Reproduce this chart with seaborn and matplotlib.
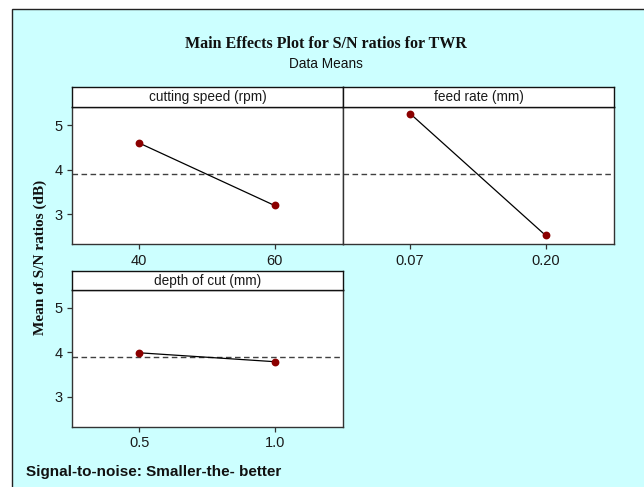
import numpy as np
import matplotlib
matplotlib.use("Agg")
import matplotlib.pyplot as plt
import seaborn as sns
from matplotlib.patches import Rectangle

# Main effects data (means of S/N ratios, dB)
speed_levels = ["40", "60"]
speed_sn = [4.60, 3.20]
feed_levels = ["0.07", "0.20"]
feed_sn = [5.26, 2.53]
depth_levels = ["0.5", "1.0"]
depth_sn = [3.99, 3.79]

panel_titles = ["cutting speed (rpm)", "feed rate (mm)", "depth of cut (mm)"]
y_ticks = [3, 4, 5]

sns.set_style("ticks")
plt.rcParams["font.family"] = ["Liberation Sans", "DejaVu Sans"]

BG = "#CCFFFF"
POINT = "#8B0000"
EDGE = "#333333"

W, H = 644, 487
fig = plt.figure(figsize=(W / 100, H / 100), dpi=100, facecolor="white")

# cyan frame (right/bottom edges cropped off like the original)
fig.patches.append(Rectangle((12 / W, -0.05), 1.1, 1 - 9 / H + 0.05, transform=fig.transFigure,
                             facecolor=BG, edgecolor="#222222", linewidth=1.0, zorder=-10))


def px_rect(x0, y0, x1, y1):
    return [x0 / W, 1 - y1 / H, (x1 - x0) / W, (y1 - y0) / H]


grand_mean = np.mean(speed_sn + feed_sn + depth_sn)

panels = [
    (speed_levels, speed_sn, px_rect(72, 107.3, 343, 244.3), px_rect(72, 87.3, 343, 107.3), True),
    (feed_levels, feed_sn, px_rect(343, 107.3, 614, 244.3), px_rect(343, 87.3, 614, 107.3), False),
    (depth_levels, depth_sn, px_rect(72, 290, 343, 426.7), px_rect(72, 271, 343, 290), True),
]

for (levels, vals, rect, srect, show_y), title in zip(panels, panel_titles):
    ax = fig.add_axes(rect)
    ax.set_facecolor("white")
    ax.axhline(grand_mean, color="#404040", linestyle=(0, (4, 2.5)), linewidth=1.0, zorder=1)
    sns.pointplot(x=levels, y=vals, color="black", markers="", linewidth=0.9,
                  errorbar=None, ax=ax)
    sns.pointplot(x=levels, y=vals, color=POINT, linestyle="none", markers="o",
                  markersize=3.6, errorbar=None, ax=ax)
    ax.set_xlim(-0.495, 1.505)
    ax.set_ylim(2.33, 5.40)
    ax.set_yticks(y_ticks)
    ax.set_xlabel("")
    ax.set_ylabel("")
    for s in ax.spines.values():
        s.set_visible(True)
        s.set_color(EDGE)
        s.set_linewidth(1.0)
    ax.tick_params(axis="both", labelsize=10.5, length=3.5, width=0.9, color=EDGE,
                   labelcolor="#1a1a1a", pad=3.5, direction="out")
    if not show_y:
        ax.tick_params(axis="y", left=False, labelleft=False)

    sax = fig.add_axes(srect)
    sax.set_facecolor("white")
    sax.set_xticks([])
    sax.set_yticks([])
    for s in sax.spines.values():
        s.set_visible(True)
        s.set_color("#111111")
        s.set_linewidth(1.0)
    sax.text(0.5, 0.5, title, ha="center", va="center", fontsize=9.8, color="#1a1a1a",
             transform=sax.transAxes)

fig.text(0.506, 1 - 44 / H, "Main Effects Plot for S/N ratios for TWR", ha="center", va="center",
         fontsize=11.5, fontweight="bold", family=["Liberation Serif", "DejaVu Serif"], color="#111111")
fig.text(0.506, 1 - 64 / H, "Data Means", ha="center", va="center", fontsize=9.8, color="#111111")
fig.text(40 / W, 1 - 257 / H, "Mean of S/N ratios (dB)", rotation=90, ha="center", va="center",
         fontsize=11, fontweight="bold", family=["Liberation Serif", "DejaVu Serif"], color="#111111")
fig.text(26 / W, 1 - 471.7 / H, "Signal-to-noise: Smaller-the- better", ha="left", va="center",
         fontsize=11, fontweight="bold", color="#111111")

fig.savefig("out.png", dpi=100, facecolor="white")
